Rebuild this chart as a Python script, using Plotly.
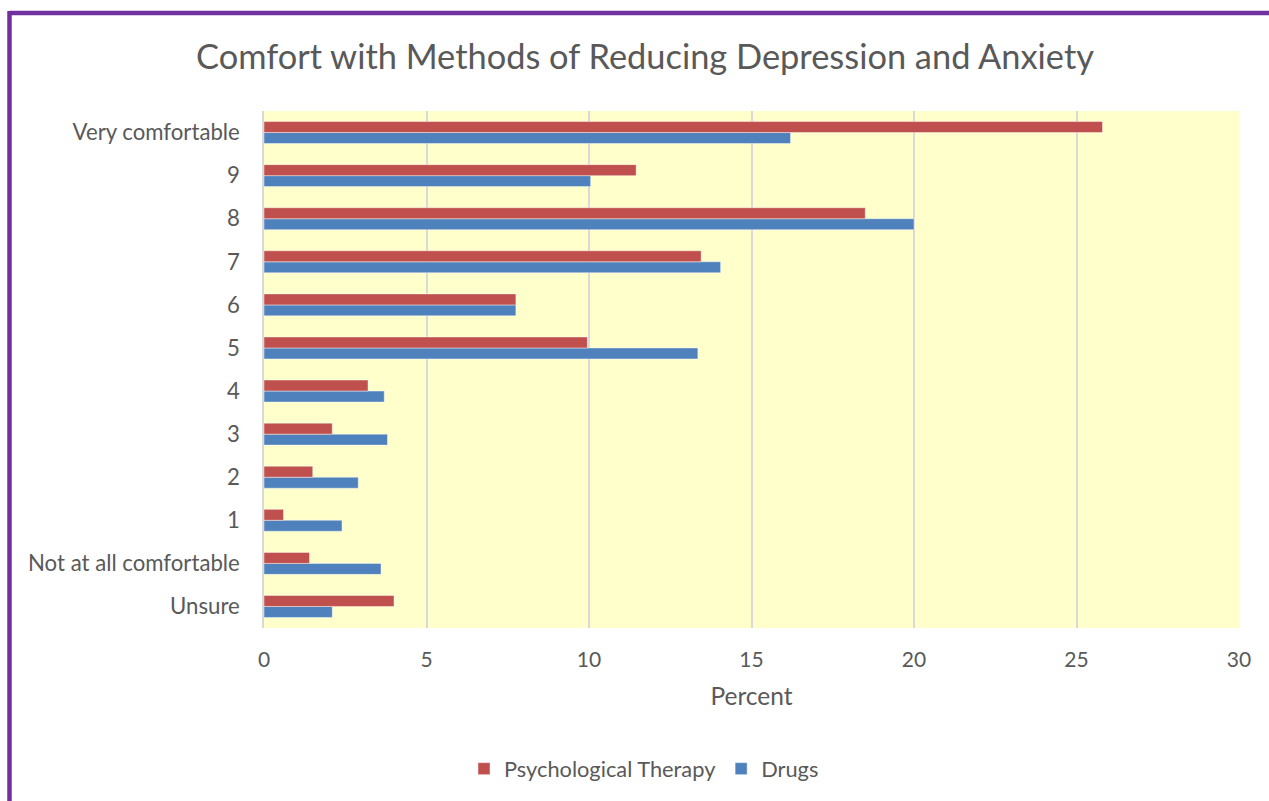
import plotly.graph_objects as go

# Survey categories, bottom-to-top as drawn on the category axis
categories = ["Unsure", "Not at all comfortable", "1", "2", "3", "4", "5",
              "6", "7", "8", "9", "Very comfortable"]

# Percent of respondents for each method
therapy = [4.0, 1.4, 0.6, 1.5, 2.1, 3.2, 9.95, 7.75, 13.45, 18.5, 11.45, 25.8]
drugs = [2.1, 3.6, 2.4, 2.9, 3.8, 3.7, 13.35, 7.75, 14.05, 20.0, 10.05, 16.2]

x_ticks = [0, 5, 10, 15, 20, 25, 30]

W, H = 1269, 801
ML, MR, MT, MB = 264, 30, 111, 173
PW, PH = W - ML - MR, H - MT - MB

TEXT = "#595959"
FONT = "Lato"


def px_x(px):
    return (px - ML) / PW


def px_y(py):
    return (H - MB - py) / PH


fig = go.Figure()

# Drugs first so that within each group it sits below the therapy bar
fig.add_trace(go.Bar(
    y=categories, x=drugs, orientation="h", name="Drugs",
    marker=dict(color="#4F81BD", line=dict(color="rgba(255,255,255,0.55)", width=0.8)),
    legendrank=2,
))
fig.add_trace(go.Bar(
    y=categories, x=therapy, orientation="h", name="Psychological Therapy",
    marker=dict(color="#C0504D", line=dict(color="rgba(255,255,255,0.55)", width=0.8)),
    legendrank=1,
))

# Purple frame along the top and left edges
frame = dict(type="line", xref="paper", yref="paper",
             line=dict(color="#7030A0", width=4.5), layer="above")
fig.add_shape(**frame, x0=px_x(9.5), x1=px_x(1275), y0=px_y(13), y1=px_y(13))
fig.add_shape(**frame, x0=px_x(9.5), x1=px_x(9.5), y0=px_y(11), y1=px_y(810))

fig.update_layout(
    width=W, height=H,
    margin=dict(l=ML, r=MR, t=MT, b=MB, autoexpand=False),
    paper_bgcolor="white",
    plot_bgcolor="#FFFFCC",
    barmode="group",
    bargap=0.49,
    bargroupgap=0,
    font=dict(family=FONT, color=TEXT),
    title=dict(
        text="Comfort with Methods of Reducing Depression and Anxiety",
        x=645 / W, xref="container", xanchor="center",
        y=1 - 57 / H, yref="container", yanchor="middle",
        font=dict(size=34.4, color=TEXT, family=FONT),
    ),
    xaxis=dict(
        range=[0, 30], tickvals=x_ticks, ticktext=[str(v) for v in x_ticks],
        showgrid=True, gridcolor="#D9D9D9", gridwidth=1.5,
        zeroline=False, showline=False,
        tickfont=dict(size=21, color=TEXT), ticks="", ticklabelstandoff=17,
        title=dict(text="Percent", font=dict(size=24.5, color=TEXT), standoff=17),
        fixedrange=True,
    ),
    yaxis=dict(
        categoryorder="array", categoryarray=categories,
        showgrid=False, zeroline=False,
        showline=True, linecolor="#D9D9D9", linewidth=1.5,
        tickfont=dict(size=22.2, color=TEXT), ticks="", ticklabelstandoff=18,
        fixedrange=True,
    ),
    legend=dict(
        orientation="h", x=(644 - ML) / PW, xanchor="center",
        y=px_y(769), yanchor="middle",
        font=dict(size=21.8, color=TEXT),
        itemwidth=30, traceorder="normal",
    ),
    showlegend=True,
)

fig.write_html("out.html")
